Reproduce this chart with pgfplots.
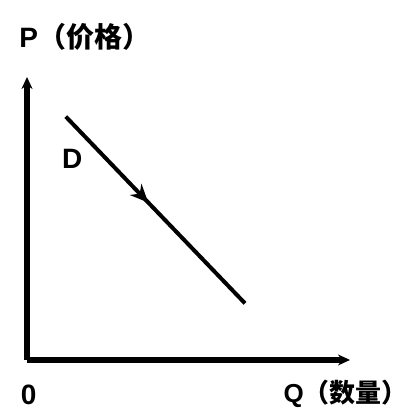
\documentclass[border=0pt]{standalone}
\usepackage{pgfplots}
\pgfplotsset{compat=1.18}
\usepackage{fontspec}
\setmainfont{Liberation Sans}
\newfontfamily\cjk{Noto Sans CJK SC}
\usetikzlibrary{arrows.meta,decorations.markings}
\begin{document}
\begin{tikzpicture}
\begin{axis}[
    width=161.5pt, height=141.5pt,
    scale only axis,
    xmin=0, xmax=10, ymin=0, ymax=10,
    axis lines=left,
    axis line style={line width=2.6pt, -{Stealth[length=6pt,width=5.5pt]}},
    xtick=\empty, ytick=\empty,
    clip=false,
]
% demand curve D
\addplot[line width=2pt, black,
    postaction={decorate},
    decoration={markings, mark=at position 0.46 with {\arrow{Stealth[length=9pt,width=8pt]}}}]
    coordinates {(1.2,8.6) (6.75,2.0)};
\node[font=\bfseries\fontsize{14}{16}\selectfont] at (axis cs:1.4,7.1) {D};
\node[font=\bfseries\fontsize{14}{16}\selectfont] at (axis cs:0.05,-1.25) {0};
\node[anchor=west, inner sep=0pt, font=\bfseries\fontsize{14}{16}\selectfont] at (axis cs:-0.25,11.4) {P\cjk（价格）};
\node[anchor=east, inner sep=0pt, font=\bfseries\fontsize{13}{15}\selectfont] at (axis cs:11.8,-1.2) {Q\cjk（数量）};
\path (rel axis cs:-0.0836,-0.198) rectangle (rel axis cs:1.192,1.272);
\end{axis}
\end{tikzpicture}
\end{document}
